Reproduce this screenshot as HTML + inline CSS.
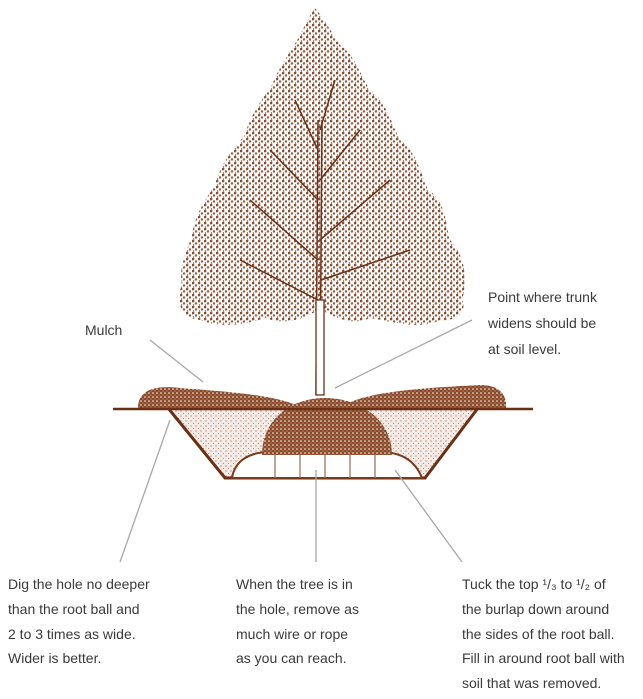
<!DOCTYPE html>
<html><head><style>
html,body{margin:0;padding:0;background:#fff;width:643px;height:699px;overflow:hidden}
svg{display:block}
text{font-family:"Liberation Sans",sans-serif;font-size:14px;fill:#3a3a3a}
</style></head><body>
<svg width="643" height="699" viewBox="0 0 643 699">
<defs>
<pattern id="st" width="6" height="6" patternUnits="userSpaceOnUse">
<rect width="6" height="6" fill="#fff"/>
<circle cx="1" cy="1" r="1.4" fill="#7a3a1c"/>
<circle cx="4" cy="3.5" r="1.2" fill="#8a4a2a"/>
<circle cx="1.5" cy="5" r="0.8" fill="#7a3a1c"/>
</pattern>
<pattern id="lt" width="5" height="5" patternUnits="userSpaceOnUse">
<rect width="5" height="5" fill="#f4ebe6"/>
<circle cx="1" cy="1" r="0.6" fill="#9a6a55"/>
<circle cx="3.5" cy="3.5" r="0.5" fill="#9a6a55"/>
</pattern>
<pattern id="dk" width="4" height="4" patternUnits="userSpaceOnUse">
<rect width="4" height="4" fill="#8a4a2a"/>
<circle cx="1" cy="1" r="0.8" fill="#fff"/>
<circle cx="3" cy="3" r="0.5" fill="#e8d0c4"/>
</pattern>
</defs>
<!-- canopy -->
<path d="M315 8 C325 20 330 30 340 45 C355 55 360 75 370 90 C385 100 390 120 400 140 C415 150 420 170 428 190 C445 200 445 220 450 240 C465 255 468 280 462 300 C468 312 455 322 440 320 C420 330 395 322 370 318 C355 325 340 320 325 312 L315 312 C300 320 285 325 265 318 C245 325 220 328 200 320 C180 318 175 300 182 285 C178 265 188 250 192 235 C195 215 205 200 215 185 C220 165 232 150 245 135 C250 115 262 100 272 85 C280 65 292 50 300 35 C305 25 310 15 315 8 Z" fill="url(#st)" opacity="0.9"/>
<!-- branches -->
<g stroke="#6b2f15" fill="none" stroke-width="1.5">
<path d="M316 395 L318 120"/><path d="M320 395 L322 120"/>
<path d="M318 260 L250 200"/><path d="M320 240 L390 180"/><path d="M318 200 L270 150"/>
<path d="M320 180 L360 130"/><path d="M318 300 L240 260"/><path d="M321 280 L410 250"/>
<path d="M318 150 L295 100"/><path d="M320 130 L335 80"/>
</g>
<rect x="316" y="300" width="8" height="95" fill="#fff" stroke="#6b2f15" stroke-width="1.3"/>
<!-- hole fill -->
<path d="M168 408 L225 478 L425 478 L478 408 Z" fill="url(#lt)" stroke="#6b2f15" stroke-width="3"/>
<!-- burlap -->
<path d="M232 478 C235 460 250 452 270 452 L380 452 C400 452 415 460 422 478 Z" fill="#fff" stroke="#7a3a1c" stroke-width="2"/>
<g stroke="#9a6a55" fill="none" stroke-width="1.2"><path d="M275 455 L275 478"/><path d="M300 455 L300 478"/><path d="M325 455 L325 478"/><path d="M350 455 L350 478"/><path d="M375 455 L375 478"/></g>
<!-- root ball -->
<path d="M262 455 C262 420 290 398 325 398 C360 398 392 420 392 455 Z" fill="url(#dk)"/>
<!-- mounds -->
<path d="M138 408 C138 390 155 385 180 388 C230 392 280 395 302 408 Z" fill="url(#dk)"/>
<path d="M340 408 C360 392 420 388 480 385 C500 385 507 395 506 408 Z" fill="url(#dk)"/>
<line x1="113" y1="409" x2="533" y2="409" stroke="#6b2f15" stroke-width="2.5"/>
<!-- leaders -->
<g stroke="#a8a8a8" stroke-width="1.3">
<line x1="150" y1="340" x2="203" y2="382"/>
<line x1="472" y1="320" x2="335" y2="388"/>
<line x1="170" y1="420" x2="120" y2="562"/>
<line x1="316" y1="470" x2="316" y2="562"/>
<line x1="395" y1="470" x2="462" y2="562"/>
</g>
<text x="85" y="335">Mulch</text>
<text x="488" y="302">Point where trunk</text>
<text x="488" y="328">widens should be</text>
<text x="488" y="354">at soil level.</text>
<text x="8" y="589">Dig the hole no deeper</text>
<text x="8" y="614">than the root ball and</text>
<text x="8" y="639">2 to 3 times as wide.</text>
<text x="8" y="663">Wider is better.</text>
<text x="236" y="589">When the tree is in</text>
<text x="236" y="614">the hole, remove as</text>
<text x="236" y="639">much wire or rope</text>
<text x="236" y="663">as you can reach.</text>
<text x="462" y="589">Tuck the top ¹/₃ to ¹/₂ of</text>
<text x="462" y="614">the burlap down around</text>
<text x="462" y="639">the sides of the root ball.</text>
<text x="462" y="663">Fill in around root ball with</text>
<text x="462" y="688">soil that was removed.</text>
</svg>
</body></html>
